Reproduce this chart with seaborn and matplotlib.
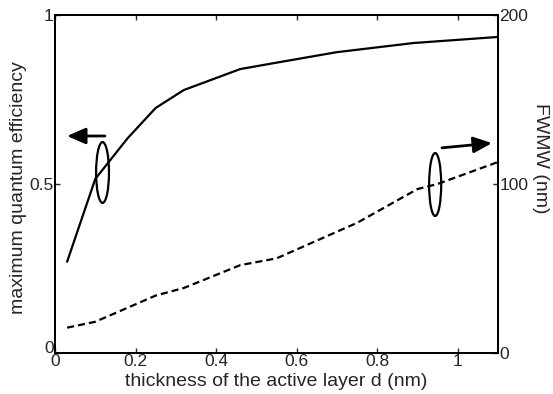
import matplotlib
matplotlib.use("Agg")
import matplotlib.pyplot as plt
from matplotlib.patches import Ellipse
import seaborn as sns
import pandas as pd

# data
d_eff = [0.03, 0.10, 0.18, 0.25, 0.32, 0.46, 0.56, 0.70, 0.89, 1.10]
eff = [0.27, 0.515, 0.635, 0.725, 0.778, 0.84, 0.861, 0.89, 0.917, 0.935]
d_fwhm = [0.03, 0.10, 0.25, 0.32, 0.46, 0.55, 0.75, 0.90, 0.95, 1.10]
fwhm = [15, 18.5, 34, 38.5, 52, 56, 77, 97, 100, 113]

x_ticks = [0, 0.2, 0.4, 0.6, 0.8, 1]
x_ticklabels = ["0", "0.2", "0.4", "0.6", "0.8", "1"]
yl_ticks = [0, 0.5, 1]
yl_ticklabels = ["0", "0.5", "1"]
yr_ticks = [0, 100, 200]
yr_ticklabels = ["0", "100", "200"]

TFS = 12.5
LFS = 14

sns.set_style("ticks")
plt.rcParams['font.family'] = ['Liberation Sans', 'DejaVu Sans']
plt.rcParams['xtick.direction'] = 'in'
plt.rcParams['ytick.direction'] = 'in'

fig = plt.figure(figsize=(5.53, 3.94), dpi=100)
ax = fig.add_axes([0.0995, 0.104, 0.801, 0.858])

df1 = pd.DataFrame({"d": d_eff, "eff": eff})
df2 = pd.DataFrame({"d": d_fwhm, "fwhm": fwhm})

sns.lineplot(data=df1, x="d", y="eff", ax=ax, color="black", lw=1.6)
ax.set_xlim(0, 1.1)
ax.set_ylim(0, 1)
ax.set_xticks(x_ticks)
ax.set_xticklabels(x_ticklabels, fontsize=TFS)
ax.set_yticks(yl_ticks)
ax.set_yticklabels(yl_ticklabels, fontsize=TFS)
ax.tick_params(axis='x', top=True, length=3.5, width=1, pad=1)
ax.tick_params(axis='y', right=False, length=3.5, width=1, pad=1)
ylbls = ax.get_yticklabels()
ylbls[0].set_verticalalignment('baseline')
ax.set_xlabel("thickness of the active layer d (nm)", fontsize=LFS)
ax.xaxis.set_label_coords(0.5, -0.059)
ax.set_ylabel("maximum quantum efficiency", fontsize=LFS)
ax.yaxis.set_label_coords(-0.064, 0.488)

ax2 = ax.twinx()
sns.lineplot(data=df2, x="d", y="fwhm", ax=ax2, color="black", lw=1.6,
             linestyle=(0, (3.2, 1.8)))
ax2.set_ylim(0, 200)
ax2.set_xlim(0, 1.1)
ax2.set_yticks(yr_ticks)
ax2.set_yticklabels(yr_ticklabels, fontsize=TFS)
ax2.tick_params(axis='y', length=3.5, width=1, pad=1)
ax2.set_ylabel("FWMW (nm)", fontsize=LFS, rotation=-90)
ax2.yaxis.set_label_coords(1.116, 0.577)

for a in (ax, ax2):
    for s in a.spines.values():
        s.set_linewidth(1.4)
        s.set_color("black")

# ellipses (left-axis data coordinates)
ax.add_patch(Ellipse((0.118, 0.534), 0.032, 0.18, fill=False, lw=1.6, ec="black"))
ax.add_patch(Ellipse((0.944, 0.4985), 0.030, 0.186, fill=False, lw=1.6, ec="black"))

ap = dict(arrowstyle='-|>,head_length=0.8,head_width=0.35', lw=2, color='black',
          mutation_scale=14, shrinkA=0, shrinkB=0)
ax.annotate("", xy=(0.03, 0.642), xytext=(0.124, 0.642), arrowprops=ap)
ax.annotate("", xy=(1.085, 0.621), xytext=(0.961, 0.607), arrowprops=ap)

fig.savefig("out.png", dpi=100)
